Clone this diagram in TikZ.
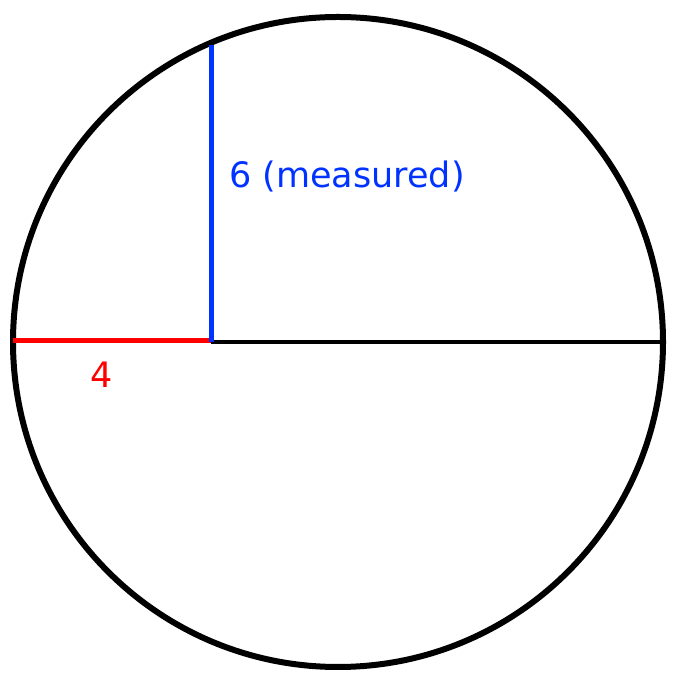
\documentclass[tikz,border=0pt]{standalone}
\usepackage{fontspec}
\setmainfont{DejaVu Sans}
\definecolor{myblue}{RGB}{0,51,255}
\definecolor{myred}{RGB}{255,0,0}
\begin{document}
\begin{tikzpicture}[x=1pt,y=1pt,
  lbl/.style={font=\fontsize{35}{40}\selectfont, inner sep=0pt}]
\useasboundingbox (0,0) rectangle (682,684);
\coordinate (c) at (338,342);
\coordinate (L) at (13,342);
\coordinate (R) at (663,342);
\coordinate (F) at (211,342);
\coordinate (T) at (211,639);
\draw[line width=6pt] (c) circle (325);
\draw[line width=4.5pt] (F) -- (R);
\draw[myred, line width=5.5pt] ([yshift=1.5pt]L) -- ([yshift=1.5pt]F);
\draw[myblue, line width=5pt] (F) -- (T);
\node[lbl, text=myblue, anchor=west] (m) at (229,507) {6 (measured)};
\node[lbl, text=myred] (four) at (102,309) {4};
\end{tikzpicture}
\end{document}
